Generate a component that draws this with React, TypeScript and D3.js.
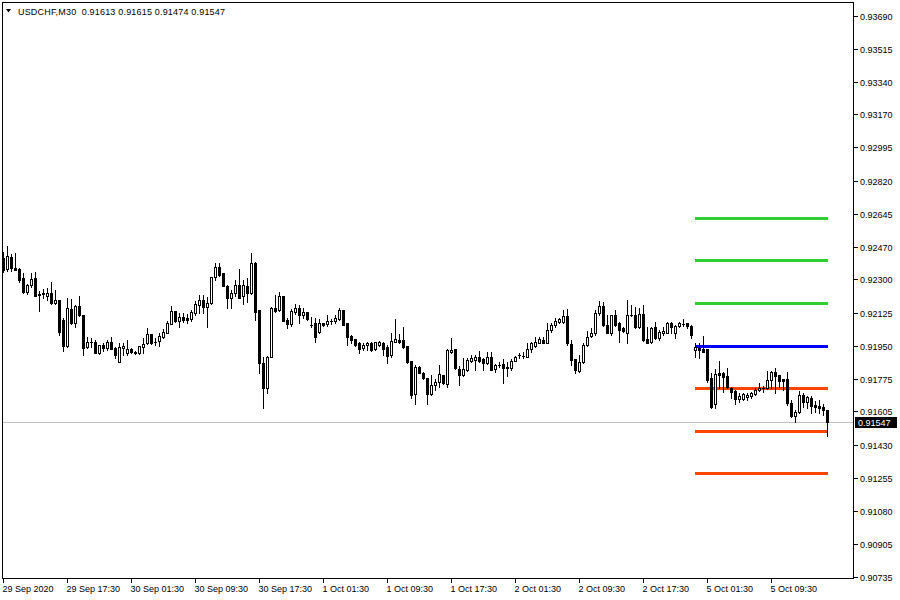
import * as d3 from "d3";

// USDCHF M30, 29 Sep 2020 09:30 .. 5 Oct 2020 16:30 (one value per bar)
const open = [
  0.92413, 0.92355, 0.92418, 0.9236, 0.92355, 0.92308, 0.92234, 0.92271, 0.92308, 0.92218,
  0.92223, 0.92213, 0.92229, 0.92176, 0.92192, 0.92086, 0.91949, 0.92144, 0.92071, 0.9216,
  0.92113, 0.91944, 0.91971, 0.91971, 0.91913, 0.91955, 0.91939, 0.91971, 0.91939, 0.91865,
  0.91939, 0.91913, 0.91934, 0.91918, 0.91913, 0.91944, 0.91965, 0.92013, 0.91971, 0.91976,
  0.91997, 0.92018, 0.92065, 0.92134, 0.92081, 0.92102, 0.92097, 0.92092, 0.92123, 0.92165,
  0.92192, 0.92155, 0.92176, 0.92313, 0.92366, 0.92334, 0.92266, 0.92202, 0.92229, 0.92271,
  0.92213, 0.92266, 0.92229, 0.92387, 0.92139, 0.9186, 0.91728, 0.91892, 0.9215, 0.92139,
  0.92213, 0.92086, 0.92065, 0.92129, 0.9215, 0.92113, 0.92129, 0.92061, 0.92071, 0.92023,
  0.92071, 0.92065, 0.92081, 0.92081, 0.92092, 0.92139, 0.92071, 0.92002, 0.91986, 0.91965,
  0.91939, 0.91955, 0.91965, 0.91934, 0.91955, 0.91965, 0.91944, 0.91902, 0.91971, 0.91981,
  0.91981, 0.91949, 0.9187, 0.91697, 0.91839, 0.91807, 0.91781, 0.91697, 0.91744, 0.9176,
  0.91797, 0.91749, 0.91918, 0.91934, 0.91828, 0.91797, 0.91823, 0.9187, 0.91876, 0.91892,
  0.91881, 0.9186, 0.91892, 0.91828, 0.91849, 0.91855, 0.91839, 0.91834, 0.9187, 0.91902,
  0.91897, 0.91892, 0.91934, 0.91949, 0.91965, 0.91981, 0.91965, 0.92034, 0.9206, 0.92076,
  0.92076, 0.92108, 0.9196, 0.91881, 0.91818, 0.91865, 0.91955, 0.92002, 0.92018, 0.92123,
  0.9216, 0.9206, 0.92018, 0.92113, 0.92071, 0.92044, 0.92018, 0.92113, 0.92113, 0.9205,
  0.92118, 0.91986, 0.91971, 0.9205, 0.91992, 0.92018, 0.92018, 0.92071, 0.92018, 0.92055,
  0.92065, 0.92071, 0.92055, 0.91928, 0.91939, 0.91934, 0.91934, 0.91781, 0.91644, 0.91807,
  0.91807, 0.91791, 0.91728, 0.91712, 0.9167, 0.9167, 0.91681, 0.91686, 0.91697, 0.91718,
  0.91728, 0.91728, 0.9177, 0.91813, 0.91797, 0.91776, 0.91776, 0.91649, 0.91581, 0.91602,
  0.91691, 0.91655, 0.91676, 0.91639, 0.91633, 0.91628, 0.91613,
];
const high = [
  0.92445, 0.92476, 0.92434, 0.92439, 0.9236, 0.92334, 0.92276, 0.92334, 0.92339, 0.92239,
  0.9225, 0.92255, 0.92287, 0.92244, 0.92192, 0.92097, 0.92202, 0.92197, 0.92165, 0.92213,
  0.92113, 0.91997, 0.91992, 0.91981, 0.91955, 0.91965, 0.91981, 0.91997, 0.91944, 0.91965,
  0.91965, 0.91981, 0.91939, 0.91923, 0.91949, 0.91992, 0.92044, 0.92013, 0.91992, 0.92018,
  0.92039, 0.92081, 0.9216, 0.92134, 0.92123, 0.92123, 0.92118, 0.92139, 0.92187, 0.92218,
  0.92218, 0.92208, 0.92313, 0.92387, 0.92387, 0.92334, 0.92271, 0.92244, 0.92297, 0.92355,
  0.92297, 0.92308, 0.92439, 0.92392, 0.92139, 0.91892, 0.91897, 0.92155, 0.92218, 0.92234,
  0.92213, 0.92097, 0.92144, 0.92171, 0.92165, 0.9215, 0.92129, 0.92102, 0.92097, 0.92092,
  0.92071, 0.92113, 0.92092, 0.92113, 0.9215, 0.92139, 0.92071, 0.92007, 0.91986, 0.91971,
  0.91965, 0.91971, 0.91971, 0.91971, 0.91976, 0.91971, 0.91955, 0.92018, 0.92092, 0.92013,
  0.9205, 0.91949, 0.9187, 0.91849, 0.91844, 0.91813, 0.91781, 0.91797, 0.91776, 0.91849,
  0.91797, 0.91934, 0.91992, 0.91934, 0.91844, 0.91886, 0.91886, 0.91902, 0.91902, 0.91923,
  0.91886, 0.91918, 0.91918, 0.91855, 0.91865, 0.91881, 0.91865, 0.91881, 0.91897, 0.91913,
  0.91918, 0.91965, 0.91971, 0.91997, 0.91997, 0.91997, 0.92071, 0.92071, 0.92097, 0.92097,
  0.92139, 0.92144, 0.91981, 0.91881, 0.91902, 0.91965, 0.92028, 0.92044, 0.92139, 0.92187,
  0.92181, 0.92113, 0.92113, 0.92139, 0.92076, 0.9205, 0.92192, 0.92165, 0.92155, 0.9215,
  0.92165, 0.9205, 0.9205, 0.92076, 0.92034, 0.9205, 0.92076, 0.92076, 0.9206, 0.92076,
  0.92092, 0.92071, 0.9206, 0.91965, 0.91965, 0.92002, 0.91934, 0.91807, 0.91828, 0.9187,
  0.91813, 0.91834, 0.91734, 0.91718, 0.91702, 0.91702, 0.91702, 0.91707, 0.91728, 0.91755,
  0.91739, 0.91818, 0.91818, 0.91834, 0.91797, 0.91776, 0.91813, 0.91665, 0.91612, 0.91712,
  0.91702, 0.91686, 0.91686, 0.9166, 0.91665, 0.91644, 0.91615,
];
const low = [
  0.92339, 0.92345, 0.92345, 0.9235, 0.92287, 0.92229, 0.92223, 0.9226, 0.92213, 0.92134,
  0.92202, 0.92192, 0.92171, 0.92171, 0.92007, 0.91923, 0.91944, 0.92065, 0.9205, 0.92108,
  0.91902, 0.91939, 0.91944, 0.91913, 0.91907, 0.91923, 0.91928, 0.91934, 0.91886, 0.91865,
  0.91902, 0.91902, 0.91913, 0.91907, 0.91907, 0.91913, 0.9196, 0.9196, 0.91955, 0.91949,
  0.91992, 0.92018, 0.92065, 0.92076, 0.9205, 0.92076, 0.92071, 0.92081, 0.92113, 0.92123,
  0.92123, 0.9205, 0.92171, 0.92297, 0.92318, 0.92266, 0.9215, 0.9215, 0.92213, 0.92202,
  0.92171, 0.92181, 0.92223, 0.92086, 0.91807, 0.91623, 0.91702, 0.91892, 0.92129, 0.92134,
  0.92081, 0.92044, 0.92055, 0.92118, 0.92071, 0.92097, 0.92086, 0.9205, 0.91971, 0.92018,
  0.92055, 0.92055, 0.92065, 0.92071, 0.92086, 0.9206, 0.91955, 0.91965, 0.91949, 0.91913,
  0.91928, 0.91928, 0.91923, 0.91928, 0.91949, 0.91902, 0.9186, 0.91892, 0.91971, 0.91965,
  0.91939, 0.9186, 0.91676, 0.91644, 0.91807, 0.91776, 0.91644, 0.91691, 0.91718, 0.91734,
  0.91749, 0.91734, 0.91913, 0.91828, 0.91744, 0.91791, 0.91818, 0.91865, 0.91823, 0.91865,
  0.91823, 0.91855, 0.91823, 0.91813, 0.91839, 0.91755, 0.91791, 0.91823, 0.9187, 0.91886,
  0.91886, 0.91892, 0.91918, 0.91944, 0.91965, 0.91965, 0.91965, 0.92023, 0.9205, 0.92071,
  0.92071, 0.91955, 0.91849, 0.91807, 0.91813, 0.9186, 0.91949, 0.91997, 0.92007, 0.92113,
  0.92055, 0.92018, 0.92007, 0.92055, 0.91971, 0.92023, 0.91965, 0.92108, 0.92044, 0.92044,
  0.91976, 0.91965, 0.91965, 0.91986, 0.91981, 0.92007, 0.92018, 0.92018, 0.91992, 0.9205,
  0.92055, 0.92044, 0.91992, 0.91892, 0.91886, 0.91918, 0.9176, 0.91623, 0.91623, 0.91728,
  0.91707, 0.91728, 0.91676, 0.91644, 0.91655, 0.91665, 0.91665, 0.91676, 0.91691, 0.91712,
  0.91707, 0.91723, 0.91728, 0.91702, 0.91734, 0.91718, 0.91639, 0.91576, 0.91549, 0.91597,
  0.91628, 0.91623, 0.91597, 0.91602, 0.91597, 0.91586, 0.91474,
];
const close = [
  0.9235, 0.92424, 0.9236, 0.9235, 0.92297, 0.92234, 0.92271, 0.92302, 0.92213, 0.92223,
  0.92229, 0.92229, 0.92176, 0.92192, 0.92023, 0.91949, 0.9215, 0.92071, 0.9216, 0.92113,
  0.91939, 0.91971, 0.91971, 0.91913, 0.91955, 0.91939, 0.91971, 0.91934, 0.91902, 0.91944,
  0.91949, 0.91934, 0.91918, 0.91913, 0.91949, 0.9196, 0.92013, 0.91965, 0.91971, 0.92002,
  0.92023, 0.92071, 0.92134, 0.92081, 0.92102, 0.92086, 0.92086, 0.92129, 0.92171, 0.92192,
  0.92155, 0.92176, 0.92313, 0.92366, 0.92323, 0.92266, 0.92202, 0.92229, 0.92271, 0.92202,
  0.92271, 0.92229, 0.92387, 0.92129, 0.9186, 0.91728, 0.91892, 0.9215, 0.92134, 0.92213,
  0.92081, 0.92065, 0.92134, 0.9215, 0.92113, 0.92129, 0.92092, 0.9206, 0.91997, 0.92071,
  0.9206, 0.92081, 0.92081, 0.92097, 0.92139, 0.9206, 0.91997, 0.91981, 0.91955, 0.91934,
  0.91955, 0.91965, 0.91928, 0.91971, 0.91971, 0.91934, 0.91897, 0.91976, 0.91986, 0.91971,
  0.91944, 0.91865, 0.91691, 0.91839, 0.91807, 0.91781, 0.91697, 0.91744, 0.9176, 0.91802,
  0.91755, 0.91928, 0.91928, 0.91834, 0.91797, 0.91828, 0.91876, 0.91886, 0.91892, 0.9187,
  0.9186, 0.91892, 0.91823, 0.91849, 0.91849, 0.91834, 0.91834, 0.9187, 0.91892, 0.91902,
  0.91897, 0.91934, 0.91965, 0.91971, 0.91986, 0.91965, 0.92034, 0.9206, 0.92081, 0.92092,
  0.92108, 0.91965, 0.91876, 0.91823, 0.91865, 0.91955, 0.91997, 0.92018, 0.92123, 0.9216,
  0.9206, 0.92018, 0.92113, 0.9206, 0.92034, 0.92028, 0.92113, 0.92113, 0.9205, 0.92118,
  0.91981, 0.91965, 0.92044, 0.91992, 0.92023, 0.92028, 0.92071, 0.9205, 0.92055, 0.92071,
  0.92065, 0.92055, 0.92007, 0.91944, 0.91928, 0.91918, 0.9177, 0.91628, 0.91802, 0.91797,
  0.91786, 0.91734, 0.91707, 0.9167, 0.91686, 0.91697, 0.91691, 0.91702, 0.91718, 0.91728,
  0.91728, 0.9177, 0.91813, 0.91791, 0.91765, 0.91765, 0.91649, 0.91581, 0.91602, 0.91691,
  0.91655, 0.91681, 0.91633, 0.91628, 0.91623, 0.91612, 0.91547,
];

// bottom axis: bar index of each label
const timeLabelBars = [0, 16, 32, 48, 64, 80, 96, 112, 128, 144, 160, 176, 192];
const timeLabels = [
  "29 Sep 2020", "29 Sep 17:30", "30 Sep 01:30", "30 Sep 09:30", "30 Sep 17:30",
  "1 Oct 01:30", "1 Oct 09:30", "1 Oct 17:30", "2 Oct 01:30", "2 Oct 09:30",
  "2 Oct 17:30", "5 Oct 01:30", "5 Oct 09:30",
];
const priceTicks = [
  0.9369, 0.93515, 0.9334, 0.9317, 0.92995, 0.9282, 0.92645, 0.9247, 0.923,
  0.92125, 0.9195, 0.91775, 0.91605, 0.9143, 0.91255, 0.9108, 0.90905, 0.90735,
];

// daily pivots for 5 Oct: R3, R2, R1, P, S1, S2, S3
const pivotLevels = [0.92622, 0.92401, 0.92175, 0.91948, 0.91727, 0.915, 0.91279];
const pivotStartBar = 173;

const FONT = "'Liberation Sans', Arial, sans-serif";
const FRAME = { left: 2, top: 2, right: 853, bottom: 578 };

function pivotColor(i: number) {
  if (i < 3) return "#32cd32";
  if (i === 3) return "#0000ff";
  return "#ff4500";
}

export default function App() {
  const n = close.length;
  const x = d3.scaleLinear().domain([0, n - 1]).range([3, 827]);
  const y = d3.scaleLinear().domain([0.90735, 0.9369]).range([576.7, 15.5]);
  const px = (i: number) => Math.round(x(i));
  const py = (v: number) => Math.round(y(v));
  const fmt = d3.format(".5f");

  const last = close[n - 1];
  const lastY = py(last);

  const candles = close.map((c, i) => {
    const o = open[i];
    const cx = px(i);
    const yo = py(o);
    const yc = py(c);
    const top = Math.min(yo, yc);
    const bot = Math.max(yo, yc);
    const yh = py(high[i]);
    const yl = py(low[i]);
    let body;
    if (bot === top) {
      body = <rect x={cx - 1} y={top} width={3} height={1} fill="#000" />;
    } else if (c > o) {
      // bull bar: hollow
      body = (
        <rect x={cx - 0.5} y={top + 0.5} width={2} height={bot - top}
          fill="#fff" stroke="#000" strokeWidth={1} />
      );
    } else {
      body = <rect x={cx - 1} y={top} width={3} height={bot - top + 1} fill="#000" />;
    }
    return (
      <g key={i}>
        <rect x={cx} y={yh} width={1} height={yl - yh + 1} fill="#000" />
        {body}
      </g>
    );
  });

  return (
    <svg
      width={900}
      height={600}
      style={{ position: "absolute", left: 0, top: 0, display: "block" }}
      shapeRendering="crispEdges"
      fontFamily={FONT}
      fontSize={9}
    >
      <rect x={0} y={0} width={900} height={600} fill="#fff" />

      {/* bid line */}
      <rect x={FRAME.left + 1} y={lastY} width={FRAME.right - FRAME.left - 1} height={1} fill="#c0c0c0" />

      {/* pivot levels */}
      {pivotLevels.map((v, i) => (
        <rect key={i} x={px(pivotStartBar)} y={py(v) - 1}
          width={px(n - 1) - px(pivotStartBar) + 1} height={3} fill={pivotColor(i)} />
      ))}

      {candles}

      {/* frame */}
      <rect x={FRAME.left + 0.5} y={FRAME.top + 0.5}
        width={FRAME.right - FRAME.left} height={FRAME.bottom - FRAME.top}
        fill="none" stroke="#000" strokeWidth={1} />

      {/* price axis */}
      {priceTicks.map((v) => (
        <g key={v}>
          <rect x={FRAME.right + 1} y={py(v)} width={4} height={1} fill="#000" />
          <text x={860} y={py(v) + 3.5} fill="#000">{fmt(v)}</text>
        </g>
      ))}
      <rect x={855} y={lastY - 5} width={42} height={11} fill="#000" />
      <text x={858} y={lastY + 3.5} fill="#fff">{fmt(last)}</text>

      {/* time axis */}
      {timeLabelBars.map((b, i) => (
        <g key={b}>
          <rect x={px(b)} y={FRAME.bottom + 1} width={1} height={4} fill="#000" />
          <text x={px(b) - 0.5} y={592} fill="#000">{timeLabels[i]}</text>
        </g>
      ))}

      {/* header */}
      <path d="M6,9 L11,9 L8.5,12.5 Z" fill="#000" shapeRendering="auto" />
      <text x={18} y={15} fill="#000" textLength={207} lengthAdjust="spacing" style={{ whiteSpace: "pre" }}>
        {`USDCHF,M30  ${fmt(open[n - 1])} ${fmt(high[n - 1])} ${fmt(low[n - 1])} ${fmt(last)}`}
      </text>
    </svg>
  );
}
